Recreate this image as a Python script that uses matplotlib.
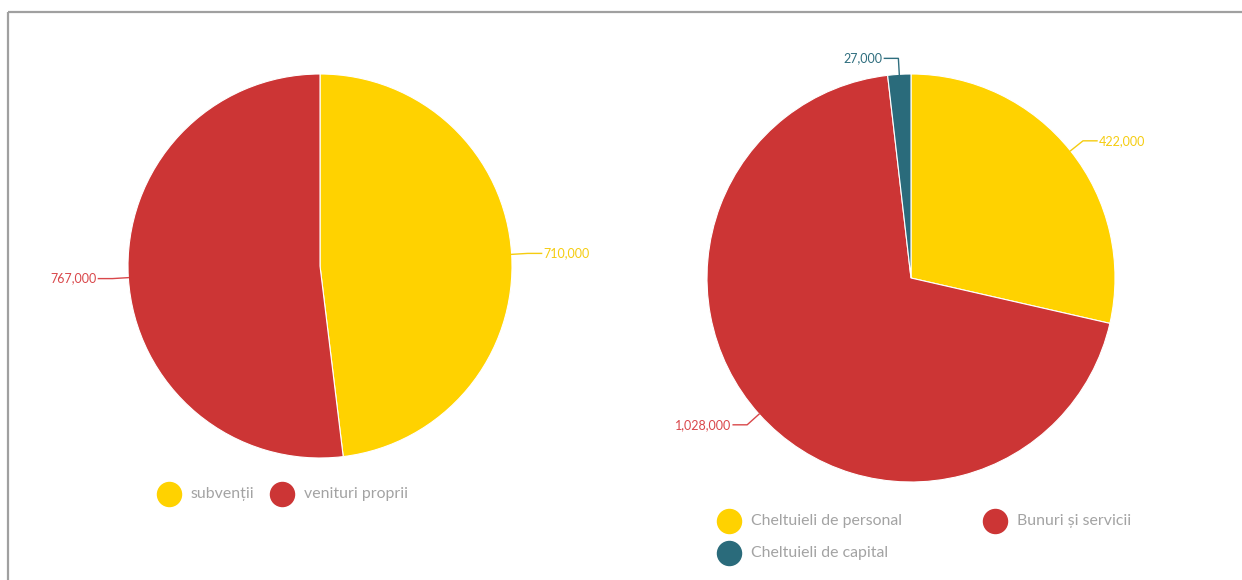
import numpy as np
import matplotlib.pyplot as plt
from matplotlib.patches import Rectangle

plt.rcParams['font.family'] = ['Lato', 'DejaVu Sans']

# data
venit_labels = ['subvenții', 'venituri proprii']
venit_values = [710000, 767000]
chelt_labels = ['Cheltuieli de personal', 'Bunuri și servicii', 'Cheltuieli de capital']
chelt_values = [422000, 1028000, 27000]

yellow = '#FFD200'
red = '#CC3535'
teal = '#2A6B7B'
venit_colors = [yellow, red]
chelt_colors = [yellow, red, teal]
label_colors = {yellow: '#F5CC10', red: '#D9474A', teal: '#2F6E7E'}

W, H = 1242, 580
fig = plt.figure(figsize=(W / 100, H / 100), dpi=100)
ax = fig.add_axes([0, 0, 1, 1])
ax.set_xlim(0, W)
ax.set_ylim(0, H)
ax.axis('off')

# frame lines (top and left)
ax.plot([8, W], [H - 12, H - 12], color='#A0A0A0', lw=1.6, solid_capstyle='butt')
ax.plot([8, 8], [H - 12, 0], color='#A0A0A0', lw=1.6, solid_capstyle='butt')

clip = Rectangle((0, 0), 1142, H, transform=ax.transData, visible=False)
ax.add_patch(clip)


def draw_pie(values, colors, cx, cy, r):
    cy = H - cy
    ax.pie(values, colors=colors, startangle=90, counterclock=False,
           center=(cx, cy), radius=r, frame=True,
           wedgeprops=dict(edgecolor='white', linewidth=0.8))
    total = float(sum(values))
    cum = 0.0
    for v, c in zip(values, colors):
        mid = np.deg2rad(90 - (cum + v / 2) / total * 360)
        cum += v
        cs, sn = np.cos(mid), np.sin(mid)
        x0, y0 = cx + r * cs, cy + r * sn
        x1, y1 = cx + (r + 16) * cs, cy + (r + 16) * sn
        sgn = 1 if cs >= 0 else -1
        dx = max((r + 30) * abs(cs), (r + 16) * abs(cs) + 14)
        x2 = cx + sgn * dx
        lc = label_colors[c]
        ax.plot([x0, x1, x2], [y0, y1, y1], color=lc, lw=1.0)
        t = ax.text(x2 + sgn * 2, y1, f'{v:,}', color=lc, fontsize=9,
                    ha='left' if sgn > 0 else 'right', va='center')
        t.set_clip_path(clip)
    ax.set_xlim(0, W)
    ax.set_ylim(0, H)
    ax.set_aspect('equal')
    ax.axis('off')


draw_pie(venit_values, venit_colors, 320, 266, 192)
draw_pie(chelt_values, chelt_colors, 911, 278, 204)

# legends
def legend_item(x, y, color, text):
    ax.scatter([x], [H - y], s=300, color=color, zorder=5)
    ax.text(x + 22, H - y, text, color='#A3A3A3', fontsize=11.4, va='center', ha='left')


legend_item(169, 494, venit_colors[0], venit_labels[0])
legend_item(282, 494, venit_colors[1], venit_labels[1])
legend_item(729, 521, chelt_colors[0], chelt_labels[0])
legend_item(995, 521, chelt_colors[1], chelt_labels[1])
legend_item(729, 553, chelt_colors[2], chelt_labels[2])

fig.savefig('out.png', dpi=100, facecolor='white')
